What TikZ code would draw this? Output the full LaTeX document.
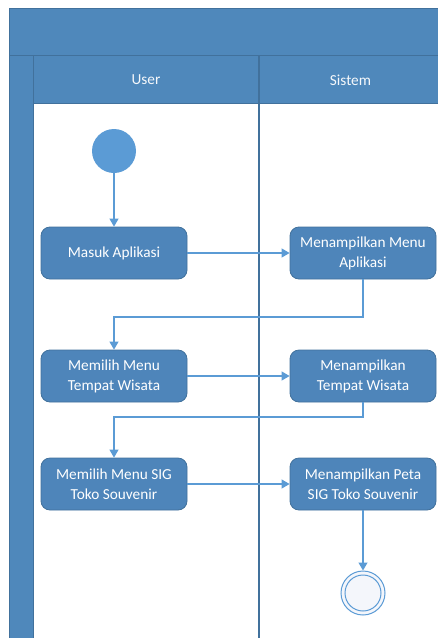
\documentclass[tikz,border=0pt]{standalone}
\usepackage{fontspec}
\setmainfont{Carlito}
\usetikzlibrary{arrows.meta}
\definecolor{hdr}{HTML}{4F88BB}
\definecolor{hdrline}{HTML}{41719C}
\definecolor{actfill}{HTML}{4E85BA}
\definecolor{lnk}{HTML}{5B9BD5}
\definecolor{endfill}{HTML}{F4F6FB}
\tikzset{
  act/.style={draw=hdrline, line width=0.8pt, fill=actfill, rounded corners=9pt,
    minimum width=146pt, minimum height=52pt, inner sep=2pt, text=white,
    align=center, font=\fontsize{15.3pt}{20pt}\selectfont},
  flow/.style={draw=lnk, line width=1.2pt, -{Triangle[length=8pt,width=9pt]}},
  lanetxt/.style={text=white!94!hdr, font=\fontsize{15.3pt}{20pt}\selectfont},
}
\begin{document}
\begin{tikzpicture}[x=1pt,y=-1pt]
\useasboundingbox (0,0) rectangle (438,638);
% pool header
\fill[hdr] (9,8) rectangle (442,103);
\fill[hdr] (9,103) rectangle (33,642);
\draw[hdrline, line width=1pt] (9,642) -- (9,8) -- (442,8);
\draw[hdrline, line width=1pt] (9,55) -- (442,55);
\draw[hdrline, line width=1pt] (33,55) -- (33,642);
\draw[hdrline, line width=1pt] (33,103) -- (442,103);
\draw[hdrline, line width=1.5pt] (259,55) -- (259,642);
\node[lanetxt] (user) at (146,80) {User};
\node[lanetxt] (sistem) at (350.5,80) {Sistem};
% nodes
\node[circle, fill=lnk, minimum size=44pt, inner sep=0pt] (start) at (114,151) {};
\node[act] (a1) at (114,253) {Masuk Aplikasi};
\node[act] (b1) at (363,253) {Menampilkan Menu\\Aplikasi};
\node[act] (a2) at (114,376) {Memilih Menu\\Tempat Wisata};
\node[act] (b2) at (363,376) {Menampilkan\\Tempat Wisata};
\node[act] (a3) at (114,484) {Memilih Menu SIG\\Toko Souvenir};
\node[act] (b3) at (363,484) {Menampilkan Peta\\SIG Toko Souvenir};
\node[circle, draw=lnk, line width=1pt, fill=endfill, minimum size=44pt, inner sep=0pt] (end) at (363,593) {};
\node[circle, draw=lnk, line width=1pt, minimum size=36pt, inner sep=0pt] (endin) at (363,593) {};
% flows
\draw[flow] (start) -- (a1);
\draw[flow] (a1) -- (b1);
\draw[flow] (b1.south) -- (363,317) -| (a2.north);
\draw[flow] (a2) -- (b2);
\draw[flow] (b2.south) -- (363,417) -| (a3.north);
\draw[flow] (a3) -- (b3);
\draw[flow] (b3) -- (end);
\end{tikzpicture}
\end{document}
